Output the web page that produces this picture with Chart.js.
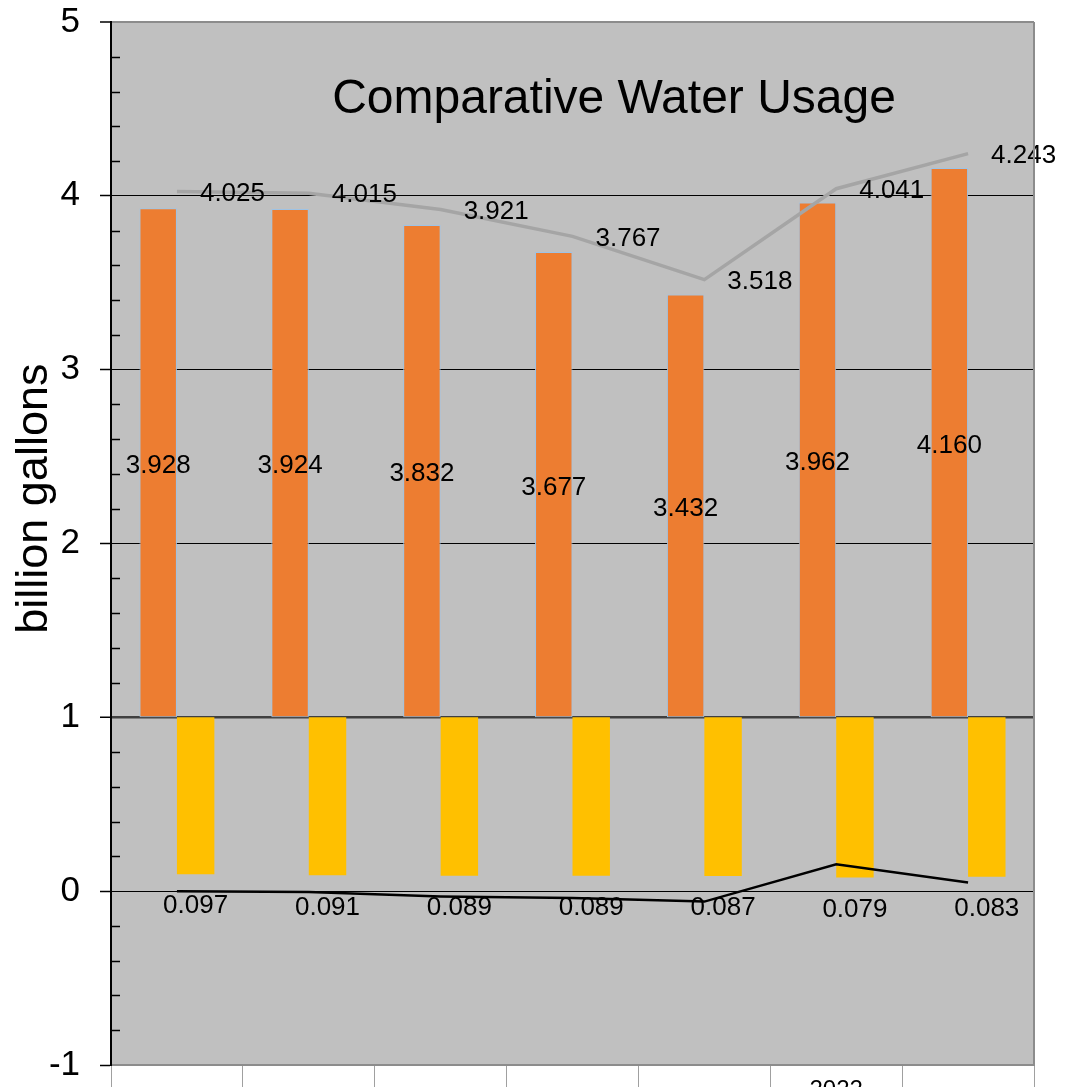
<!DOCTYPE html>
<html>
<head>
<meta charset="utf-8">
<title>Comparative Water Usage</title>
<script src="https://cdn.jsdelivr.net/npm/chart.js@4.4.0/dist/chart.umd.min.js"></script>
<style>
  html, body { margin: 0; padding: 0; background: #fff; }
  #wrap { width: 1069px; height: 1087px; position: relative; }
</style>
</head>
<body>
<div id="wrap"><canvas id="waterChart"></canvas></div>
<script>
// --- Data ---
const categories = ['', '', '', '', '', '2022', ''];
const totalUsage = [4.025, 4.015, 3.921, 3.767, 3.518, 4.041, 4.243];
const upperUsage = [3.928, 3.924, 3.832, 3.677, 3.432, 3.962, 4.160];
const lowerUsage = [0.097, 0.091, 0.089, 0.089, 0.087, 0.079, 0.083];
const changeLine = [0.0, -0.005, -0.03, -0.04, -0.06, 0.155, 0.05];
const barBase = 1;
const yMin = -1;
const yMax = 5;

const FONT = "'Liberation Sans', Arial, sans-serif";

// indexes of datasets below
const TOTAL = 0, CHANGE = 1, UPPER = 2, LOWER = 3;

// --- Plot background, frame, minor ticks, titles ---
const framePlugin = {
    id: 'frame',
    beforeDraw(chart) {
        const { ctx, chartArea: a } = chart;
        ctx.save();
        ctx.fillStyle = '#c0c0c0';
        ctx.fillRect(a.left, a.top, a.right - a.left, a.bottom - a.top);
        ctx.restore();
    },
    afterDraw(chart) {
        const { ctx, chartArea: a } = chart;
        const y = chart.scales.y;
        ctx.save();
        // right border
        ctx.strokeStyle = '#8c8c8c';
        ctx.lineWidth = 2;
        ctx.beginPath();
        ctx.moveTo(a.right, a.top);
        ctx.lineTo(a.right, a.bottom);
        ctx.stroke();

        // minor ticks, inside the plot
        ctx.strokeStyle = '#000';
        ctx.lineWidth = 1.5;
        for (let i = yMin * 5; i <= yMax * 5; i++) {
            if (i % 5 === 0) continue;
            const py = Math.round(y.getPixelForValue(i / 5)) + 0.5;
            ctx.beginPath();
            ctx.moveTo(a.left, py);
            ctx.lineTo(a.left + 9, py);
            ctx.stroke();
        }

        // chart title inside the plot
        ctx.fillStyle = '#000';
        ctx.font = `48px ${FONT}`;
        ctx.textAlign = 'center';
        ctx.textBaseline = 'alphabetic';
        ctx.fillText('Comparative Water Usage', a.left + (a.right - a.left) * 0.545, a.top + 91);

        // y axis title
        ctx.font = `45px ${FONT}`;
        ctx.translate(47, a.top + (a.bottom - a.top) * 0.457);
        ctx.rotate(-Math.PI / 2);
        ctx.fillText('billion gallons', 0, 0);
        ctx.restore();
    }
};

// --- Value labels ---
const labelPlugin = {
    id: 'valueLabels',
    afterDatasetsDraw(chart) {
        const ctx = chart.ctx;
        ctx.save();
        ctx.font = `26px ${FONT}`;
        ctx.fillStyle = '#000';
        ctx.textBaseline = 'middle';

        ctx.textAlign = 'center';
        chart.getDatasetMeta(UPPER).data.forEach((bar, i) => {
            ctx.fillText(upperUsage[i].toFixed(3), bar.x, (bar.y + bar.base) / 2 + 3);
        });
        chart.getDatasetMeta(LOWER).data.forEach((bar, i) => {
            ctx.fillText(lowerUsage[i].toFixed(3), bar.x, Math.max(bar.y, bar.base) + 32);
        });

        ctx.textAlign = 'left';
        chart.getDatasetMeta(TOTAL).data.forEach((pt, i) => {
            ctx.fillText(totalUsage[i].toFixed(3), pt.x + 23, pt.y + 2);
        });
        ctx.restore();
    }
};

new Chart(document.getElementById('waterChart'), {
    data: {
        labels: categories,
        datasets: [
            {
                type: 'line',
                label: 'Total',
                data: totalUsage,
                borderColor: '#a5a5a5',
                borderWidth: 3.5,
                pointRadius: 0,
                tension: 0,
                order: 0
            },
            {
                type: 'line',
                label: 'Change',
                data: changeLine,
                borderColor: '#000000',
                borderWidth: 2.5,
                pointRadius: 0,
                tension: 0,
                order: 0
            },
            {
                type: 'bar',
                label: 'Upper',
                data: upperUsage.map(v => [barBase, v]),
                backgroundColor: '#ed7d31',
                borderColor: '#9dc3e6',
                borderWidth: 1,
                borderSkipped: false,
                categoryPercentage: 0.568,
                barPercentage: 1,
                order: 1
            },
            {
                type: 'bar',
                label: 'Lower',
                data: lowerUsage.map(v => [barBase, v]),
                backgroundColor: '#ffc000',
                borderWidth: 0,
                categoryPercentage: 0.568,
                barPercentage: 1,
                order: 1
            }
        ]
    },
    options: {
        responsive: true,
        maintainAspectRatio: false,
        animation: false,
        layout: { padding: { top: 22, right: 35, left: 0, bottom: 0 } },
        plugins: {
            legend: { display: false },
            tooltip: { enabled: false },
            title: { display: false }
        },
        scales: {
            x: {
                afterFit: s => {
                    s.height = 22;
                    s.paddingLeft = 0;
                    s.paddingRight = 0;
                },
                ticks: {
                    color: '#000',
                    font: { size: 24, family: FONT },
                    padding: -11,
                    maxRotation: 0,
                    autoSkip: false
                },
                grid: {
                    offset: true,
                    drawOnChartArea: false,
                    color: '#a0a0a0',
                    tickLength: 22,
                    lineWidth: 1
                },
                border: { color: '#8c8c8c', width: 2 }
            },
            y: {
                min: yMin,
                max: yMax,
                afterFit: s => {
                    s.width = 111;
                    s.paddingTop = 0;
                    s.paddingBottom = 0;
                },
                ticks: {
                    stepSize: 1,
                    color: '#000',
                    font: { size: 35, family: FONT },
                    padding: 20
                },
                grid: {
                    color: c => {
                        const v = c.tick ? c.tick.value : 0;
                        if (v === 1) return '#404040';
                        if (v === 5) return '#8c8c8c';
                        if (v === -1) return 'rgba(0,0,0,0)';
                        return '#000';
                    },
                    lineWidth: c => {
                        const v = c.tick ? c.tick.value : 0;
                        if (v === 1) return 2.5;
                        if (v === 5) return 2;
                        return 1;
                    },
                    tickColor: '#000',
                    tickLength: 11,
                    tickWidth: 1.5
                },
                border: { color: '#000', width: 2 }
            }
        }
    },
    plugins: [framePlugin, labelPlugin]
});
</script>
</body>
</html>
